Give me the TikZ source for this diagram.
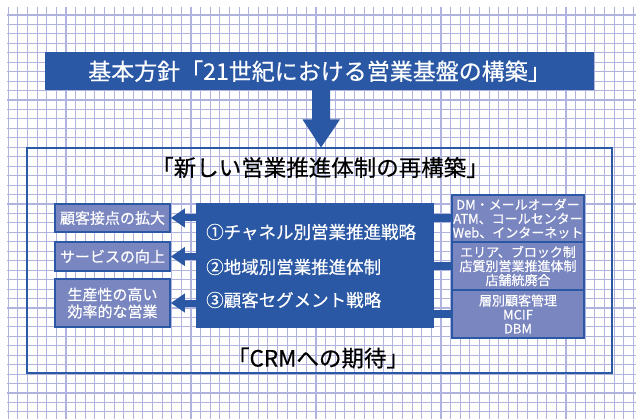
\documentclass[tikz,border=0pt]{standalone}
\usepackage{fontspec}
\setmainfont{Noto Sans CJK JP}[FakeBold=0.45]
\usetikzlibrary{arrows.meta}
\definecolor{dblue}{RGB}{42,88,164}
\definecolor{lav}{RGB}{122,134,192}
\definecolor{gridc}{RGB}{175,179,222}
\begin{document}
\begin{tikzpicture}[x=1pt,y=-1pt,
  gridline/.style={gridc,line width=1.1pt},
  banner/.style={fill=dblue,text=white,inner sep=0pt,font=\fontsize{23}{25}\selectfont},
  heading/.style={text=black,inner sep=0pt,font=\fontsize{22.5}{24}\selectfont},
  bluebox/.style={fill=dblue,inner sep=0pt},
  ctext/.style={text=white,inner sep=0pt,anchor=west,font=\fontsize{17.5}{19}\selectfont},
  lbox/.style={draw=dblue,line width=1.5pt,fill=lav,text=white,align=center,inner sep=0pt,
    minimum width=115pt,font=\fontsize{15}{17}\selectfont},
  rbox/.style={draw=dblue,line width=1.5pt,fill=lav,text=white,align=center,inner sep=0pt,
    minimum width=132pt,minimum height=48pt,font=\fontsize{13}{14}\selectfont},
  larrow/.style={dblue,line width=7pt,-{Triangle[length=14pt,width=18pt]}},
  rlink/.style={dblue,line width=8pt}]
\useasboundingbox (0,0) rectangle (636,419);
\fill[white] (0,0) rectangle (636,419);
% grid
\foreach \i in {0,...,65} \draw[gridline] ({8.3+\i*9.615},7) -- ({8.3+\i*9.615},419);
\foreach \j in {0,...,42} \draw[gridline] (7,{15+\j*9.45}) -- (636,{15+\j*9.45});
% top banner
\node[banner,minimum width=549pt,minimum height=38.5pt] (top) at (319.5,71.2) {基本方針「21世紀における営業基盤の構築」};
% down arrow
\fill[dblue] (312,90) -- (330,90) -- (330,119.5) -- (340,119.5) -- (321,147.5) -- (302.5,119.5) -- (312,119.5) -- cycle;
% frame
\node[draw=dblue,line width=2pt,minimum width=585pt,minimum height=225pt,inner sep=0pt] (frame) at (319.5,260.5) {};
\node[heading] (title) at (320,167.5) {「新しい営業推進体制の再構築」};
\node[heading] (crm) at (318,358) {「CRMへの期待」};
% center box
\node[bluebox,minimum width=238pt,minimum height=125pt] (cbox) at (315,265.5) {};
\node[ctext] (s1) at (206,232) {①チャネル別営業推進戦略};
\node[ctext] (s2) at (206,267) {②地域別営業推進体制};
\node[ctext] (s3) at (206,300) {③顧客セグメント戦略};
% left boxes
\node[lbox,minimum height=28pt] (l1) at (112.5,218) {顧客接点の拡大};
\node[lbox,minimum height=29pt] (l2) at (112.5,256.5) {サービスの向上};
\node[lbox,minimum height=48pt] (l3) at (112.5,303) {生産性の高い\\効率的な営業};
\draw[larrow] (cbox.west |- l1.east) -- (l1.east);
\draw[larrow] (cbox.west |- l2.east) -- (l2.east);
\draw[larrow] (cbox.west |- l3.east) -- (l3.east);
% right boxes
\node[rbox,minimum height=47pt] (r1) at (518,218.5) {DM・メールオーダー\\ATM、コールセンター\\Web、インターネット};
\node[rbox] (r2) at (518,266) {エリア、ブロック制\\店質別営業推進体制\\店舗統廃合};
\node[rbox] (r3) at (518,314) {層別顧客管理\\MCIF\\DBM};
\draw[rlink] (cbox.east |- r1.west) -- (r1.west);
\draw[rlink] (cbox.east |- r2.west) -- (r2.west);
\draw[rlink] (cbox.east |- r3.west) -- (r3.west);
\end{tikzpicture}
\end{document}
